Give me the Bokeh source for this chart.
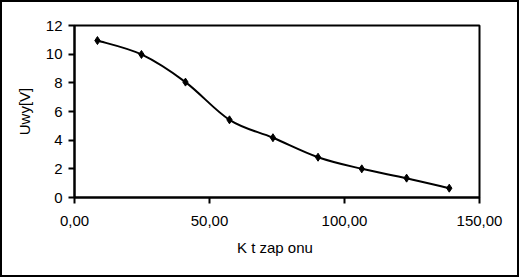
from bokeh.plotting import figure
from bokeh.models import FixedTicker, CustomJSTickFormatter, ColumnDataSource, Range1d
from bokeh.embed import file_html
from bokeh.resources import INLINE

# data
kat = [8.5, 24.8, 41.1, 57.4, 73.5, 90.2, 106.4, 123.0, 138.8]
uwy = [10.95, 9.98, 8.05, 5.42, 4.17, 2.81, 2.0, 1.35, 0.65]
x_ticks = [0, 50, 100, 150]
y_ticks = [0, 2, 4, 6, 8, 10, 12]
x_title = "K  t zap onu"
y_title = "Uwy[V]"

FONT = "Liberation Sans"

p = figure(frame_width=405, frame_height=172, output_backend="svg", toolbar_location=None,
           x_range=Range1d(0, 150), y_range=Range1d(0, 12),
           min_border_left=72, min_border_right=38, min_border_top=23, min_border_bottom=78)
p.styles = {"border": "2px solid black"}
p.background_fill_color = "white"
p.border_fill_color = "white"
p.outline_line_color = "black"
p.outline_line_width = 2
p.xgrid.visible = False
p.ygrid.visible = False

# smoothed curve (Catmull-Rom -> Bezier segments derived from the data)
n = len(kat)
x0, y0, x1, y1, cx0, cy0, cx1, cy1 = [], [], [], [], [], [], [], []
for i in range(n - 1):
    pm = i - 1 if i > 0 else i
    pp = i + 2 if i + 2 < n else i + 1
    x0.append(kat[i]); y0.append(uwy[i])
    x1.append(kat[i + 1]); y1.append(uwy[i + 1])
    cx0.append(kat[i] + (kat[i + 1] - kat[pm]) / 6)
    cy0.append(uwy[i] + (uwy[i + 1] - uwy[pm]) / 6)
    cx1.append(kat[i + 1] - (kat[pp] - kat[i]) / 6)
    cy1.append(uwy[i + 1] - (uwy[pp] - uwy[i]) / 6)
bsrc = ColumnDataSource(dict(x0=x0, y0=y0, x1=x1, y1=y1, cx0=cx0, cy0=cy0, cx1=cx1, cy1=cy1))
p.bezier(x0="x0", y0="y0", x1="x1", y1="y1", cx0="cx0", cy0="cy0", cx1="cx1", cy1="cy1",
         source=bsrc, line_color="black", line_width=2)
p.scatter(kat, uwy, marker="diamond", size=8, color="black")

for ax in (p.xaxis[0], p.yaxis[0]):
    ax.axis_line_width = 2
    ax.axis_line_color = "black"
    ax.major_tick_line_width = 2
    ax.major_tick_in = 0
    ax.major_tick_out = 6
    ax.minor_tick_line_color = None
    ax.major_label_text_font = FONT
    ax.major_label_text_font_size = "15px"
    ax.major_label_text_color = "black"
    ax.axis_label_text_font = FONT
    ax.axis_label_text_font_size = "15px"
    ax.axis_label_text_font_style = "normal"
    ax.axis_label_text_color = "black"

p.xaxis.ticker = FixedTicker(ticks=x_ticks)
p.yaxis.ticker = FixedTicker(ticks=y_ticks)
p.xaxis.formatter = CustomJSTickFormatter(code="return tick.toFixed(2).replace('.', ',');")
p.xaxis.axis_label = x_title
p.yaxis.axis_label = y_title
p.xaxis.major_label_standoff = 12
p.xaxis.axis_label_standoff = 10
p.yaxis.major_label_standoff = 6
p.yaxis.axis_label_standoff = 10

open("out.html", "w").write(file_html(p, INLINE))
